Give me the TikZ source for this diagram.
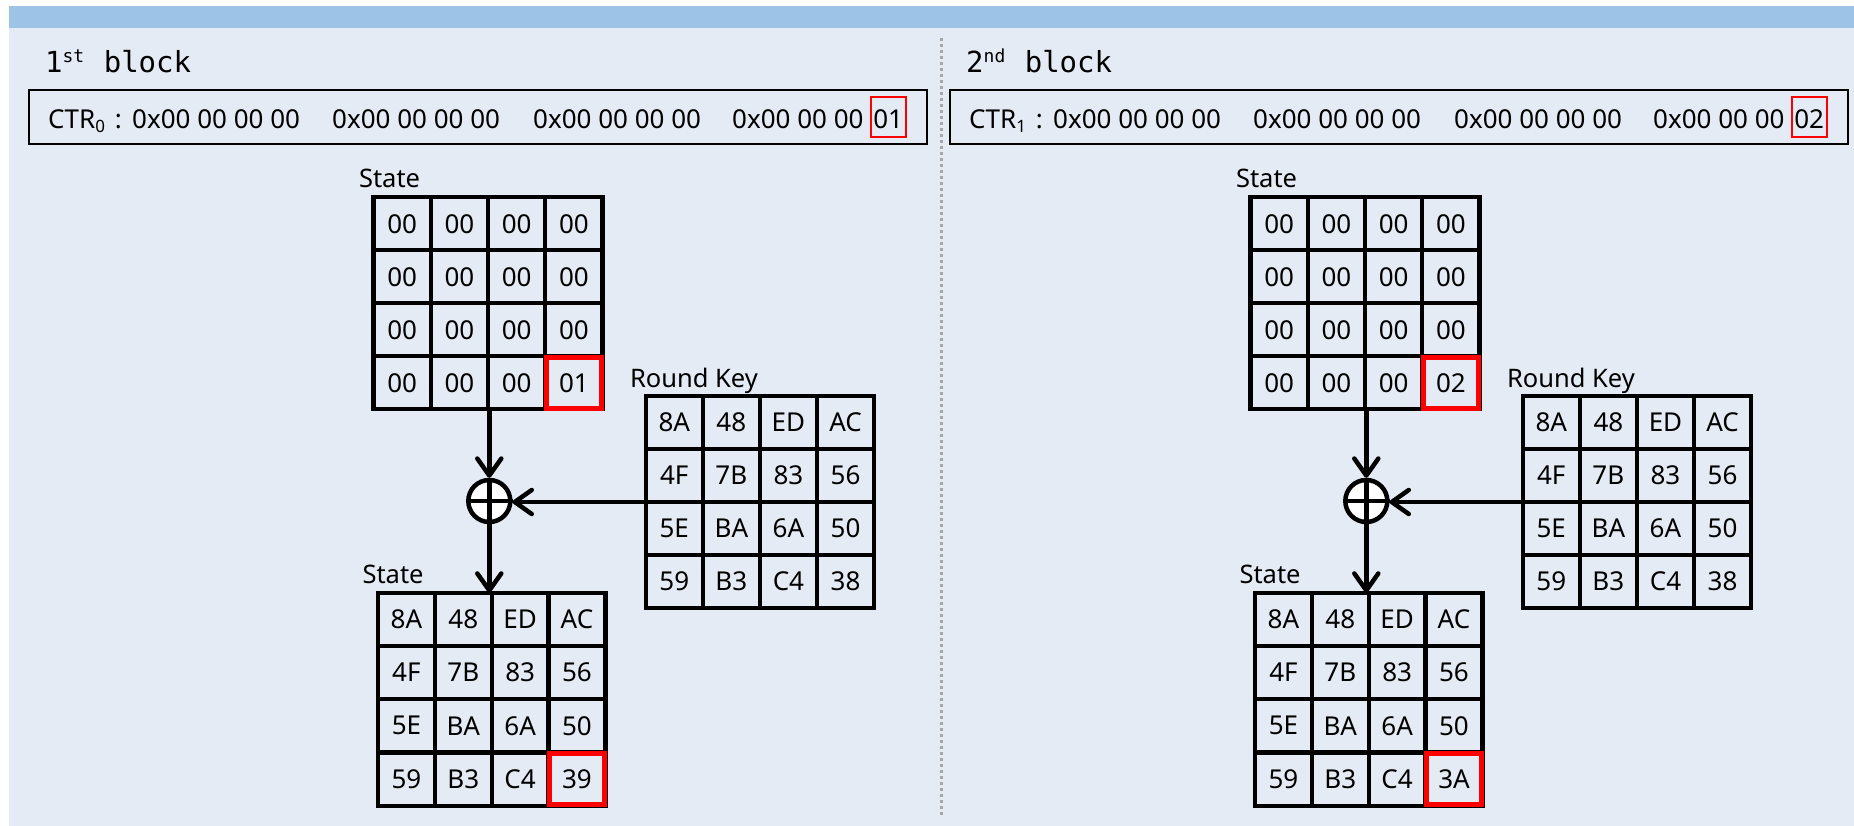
\documentclass[tikz,border=0pt]{standalone}
\usepackage{fontspec}
\setmainfont{Noto Sans}
\newfontfamily\monof{DejaVu Sans Mono}
\usetikzlibrary{arrows.meta}
\definecolor{bgc}{HTML}{E5EBF4}
\definecolor{barc}{HTML}{9DC3E6}
\definecolor{hlred}{HTML}{FF0000}
\definecolor{divgray}{HTML}{A6A6A6}
\tikzset{
 cell/.style={draw=black, line width=4.2pt, inner sep=0pt, outer sep=0pt, font=\fontsize{26}{30}\selectfont},
 lbl/.style={inner sep=0pt, outer sep=0pt, anchor=base west, font=\fontsize{25.5}{30}\selectfont},
 ctrtxt/.style={inner sep=0pt, anchor=base west, font=\fontsize{26}{30}\selectfont},
 ttl/.style={inner sep=0pt, anchor=base west, font=\monof\fontsize{29}{32}\selectfont},
 ctrbox/.style={draw=black, line width=2.4pt, inner sep=0pt, outer sep=0pt, anchor=north west, minimum width=898pt, minimum height=54pt},
 ctrhl/.style={draw=hlred, line width=2.2pt, inner sep=0pt, anchor=base, minimum width=35pt, text height=31.5pt, text depth=8.5pt, font=\fontsize{26}{30}\selectfont},
 hlbox/.style={draw=hlred, line width=5pt, inner sep=0pt, outer sep=0pt},
 xorc/.style={circle, draw=black, fill=white, line width=4.5pt, minimum size=42pt, inner sep=0pt, outer sep=2.2pt},
 flow/.style={line width=4.5pt, -{Straight Barb[length=17pt, width=24pt, round]}},
}
% #1 name, #2 x0, #3 y0, #4 cell width, #5 cell height, #6 entries
\newcommand\cellgrid[6]{%
  \foreach \cv [count=\idx from 0] in {#6} {%
    \pgfmathtruncatemacro\myr{\idx/4}%
    \pgfmathtruncatemacro\myc{mod(\idx,4)}%
    \node[cell, minimum width=#4pt, minimum height=#5pt] (#1-\myr-\myc) at ({#2+(\myc+0.5)*#4}, {#3+(\myr+0.5)*#5}) {\cv};
  }}
% #1 prefix, #2 ordinal, #3 suffix, #4 subscript, #5 last byte
\newcommand\hdr[5]{%
  \node[ttl] (#1title) at (45,73) {#2\raisebox{10pt}{\fontsize{18}{18}\selectfont #3}\hspace{2pt} block};
  \node[ctrbox] (#1box) at (29,90) {};
  \node[ctrtxt] (#1ctr) at (48,128.5) {CTR\raisebox{-4pt}{\fontsize{17}{17}\selectfont #4}\hspace{10pt}:};
  \node[ctrtxt] (#1ga) at (132,128.5) {0x00 00 00 00};
  \node[ctrtxt] (#1gb) at (332,128.5) {0x00 00 00 00};
  \node[ctrtxt] (#1gc) at (533,128.5) {0x00 00 00 00};
  \node[ctrtxt] (#1gd) at (732,128.5) {0x00 00 00};
  \node[ctrhl] (#1last) at (888.2,128.5) {#5};
}
% #1 prefix, #2 top last entry, #3 bottom last entry
\newcommand\diag[3]{%
  \node[lbl] (#1lt) at (359,188) {State};
  \cellgrid{#1s}{373.5}{197.3}{57.25}{53}{00,00,00,00,00,00,00,00,00,00,00,00,00,00,00,#2}
  \node[hlbox, minimum width=55.25pt, minimum height=51pt] (#1sh) at (#1s-3-3) {};
  \node[lbl] (#1lk) at (630,387) {Round Key};
  \cellgrid{#1k}{645.7}{396}{57.1}{53}{8A,48,ED,AC,4F,7B,83,56,5E,BA,6A,50,59,B3,C4,38}
  \node[lbl] (#1lb) at (362.5,583) {State};
  \cellgrid{#1b}{378}{592.7}{56.85}{53.25}{8A,48,ED,AC,4F,7B,83,56,5E,BA,6A,50,59,B3,C4,#3}
  \node[hlbox, minimum width=54.85pt, minimum height=51.25pt] (#1bh) at (#1b-3-3) {};
  \node[xorc] (#1x) at (489.3,501) {};
  \draw[line width=4.5pt] (#1x.north) -- (#1x.south) (#1x.west) -- (#1x.east);
  \draw[flow] (#1x.north |- #1s-3-1.south east) -- (#1x.north);
  \draw[flow] (#1k-1-0.south west) -- (#1k-1-0.south west -| #1x.east);
  \draw[flow] (#1x.south) -- (#1x.south |- #1b-0-1.north east);
}
\begin{document}
\begin{tikzpicture}[x=1pt, y=-1pt]
\useasboundingbox (0,0) rectangle (1854,826);
\fill[white] (0,0) rectangle (1854,826);
\fill[bgc] (9,6) rectangle (1854,826);
\fill[barc] (9,6) rectangle (1854,27.7);
\draw[divgray, line width=3pt, dash pattern=on 3pt off 3pt] (941,38) -- (941,815);
\hdr{l}{1}{st}{0}{01}
\begin{scope}[xshift=921pt]
\hdr{r}{2}{nd}{1}{02}
\end{scope}
\diag{l}{01}{39}
\begin{scope}[xshift=877pt]
\diag{r}{02}{3A}
\end{scope}
\end{tikzpicture}
\end{document}
